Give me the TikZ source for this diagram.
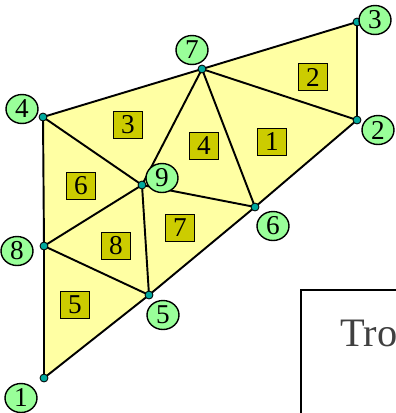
\documentclass[tikz,border=0pt]{standalone}
\usepackage{fontspec}
\setmainfont{Liberation Serif}
\usetikzlibrary{shapes.geometric}
\definecolor{meshfill}{HTML}{FFFFA3}
\definecolor{elemfill}{HTML}{CCCC00}
\definecolor{nodefill}{HTML}{99FF99}
\definecolor{dotfill}{HTML}{00A99D}
\tikzset{
  edge/.style={line width=1.1pt},
  vnum/.style={ellipse,draw,line width=0.8pt,fill=nodefill,inner sep=0pt,
    minimum width=0.64cm,minimum height=0.58cm,font=\fontsize{15.5}{16}\selectfont},
  enum/.style={rectangle,draw,line width=0.8pt,fill=elemfill,inner sep=0pt,
    minimum width=0.58cm,minimum height=0.54cm,font=\fontsize{15.5}{16}\selectfont},
  vdot/.style={circle,draw,line width=0.5pt,fill=dotfill,inner sep=0pt,minimum size=4.5pt}
}
\begin{document}
\begin{tikzpicture}[x=0.02cm,y=-0.02cm]
\useasboundingbox (0,0) rectangle (396,413);
\clip (0,0) rectangle (396,413);

% mesh vertices
\coordinate (p1) at (44,378);
\coordinate (p2) at (357,120);
\coordinate (p3) at (357,22);
\coordinate (p4) at (43,117);
\coordinate (p5) at (149,295);
\coordinate (p6) at (255,207);
\coordinate (p7) at (202,69);
\coordinate (p8) at (44,246);
\coordinate (p9) at (142,185);

% elements
\fill[meshfill] (p1) -- (p8) -- (p4) -- (p7) -- (p3) -- (p2) -- (p6) -- (p5) -- cycle;
\draw[edge] (p1) -- (p8) -- (p4) -- (p7) -- (p3) -- (p2) -- (p6) -- (p5) -- cycle;
\draw[edge] (p7) -- (p2);
\draw[edge] (p7) -- (p6);
\draw[edge] (p7) -- (p9);
\draw[edge] (p4) -- (p9);
\draw[edge] (p8) -- (p9);
\draw[edge] (p9) -- (p6);
\draw[edge] (p9) -- (p5);
\draw[edge] (p8) -- (p5);

% vertex dots
\foreach \i in {1,...,9}
  \node[vdot] (d\i) at (p\i) {};

% element numbers
\node[enum] (e1) at (272,142) {1};
\node[enum] (e2) at (313,77) {2};
\node[enum] (e3) at (128,125) {3};
\node[enum] (e4) at (204,146) {4};
\node[enum] (e5) at (75,305) {5};
\node[enum] (e6) at (81,186) {6};
\node[enum] (e7) at (180,228) {7};
\node[enum] (e8) at (116,246) {8};

% node numbers
\node[vnum] (n1) at (21,398) {1};
\node[vnum] (n2) at (378,130) {2};
\node[vnum] (n3) at (375,20) {3};
\node[vnum] (n4) at (22,109) {4};
\node[vnum] (n5) at (163,315) {5};
\node[vnum] (n6) at (273,226) {6};
\node[vnum] (n7) at (192,50) {7};
\node[vnum] (n8) at (17,251) {8};
\node[vnum] (n9) at (162,178) {9};

% cut-off caption box
\draw[line width=1.2pt] (301,460) -- (301,290) -- (460,290);
\node[anchor=base west,inner sep=0pt,text=black!75,font=\fontsize{23}{26}\selectfont] (cap) at (340,346) {Tro};
\end{tikzpicture}
\end{document}
